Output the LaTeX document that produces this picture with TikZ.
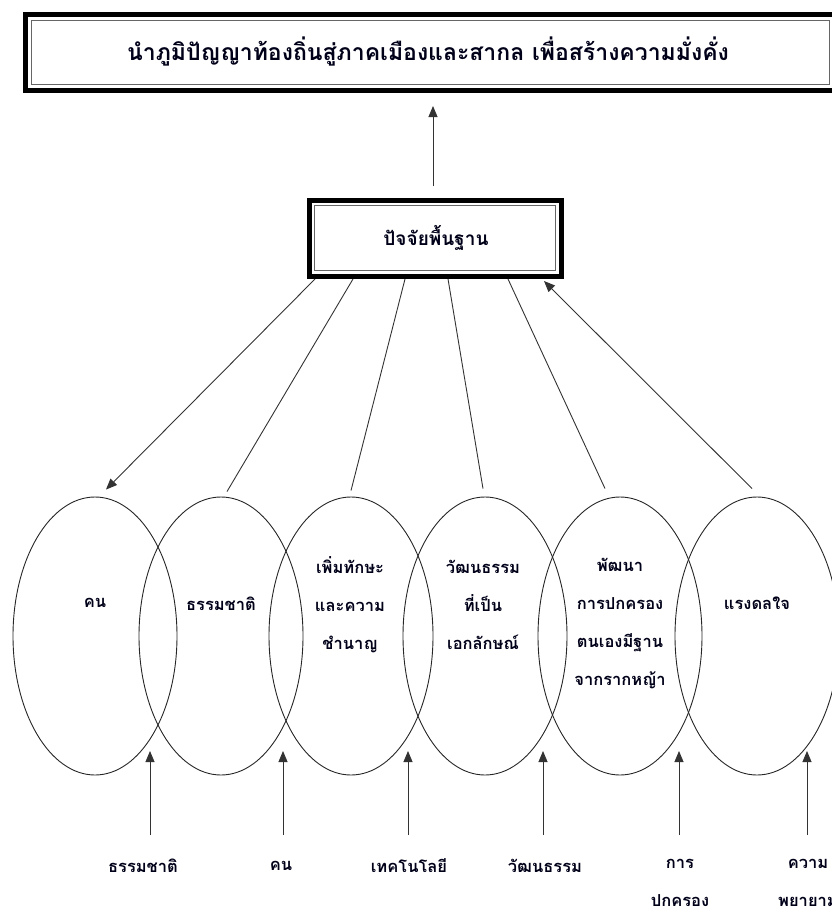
\documentclass[tikz,border=0pt]{standalone}
\usepackage{fontspec}
\newfontfamily\thaifont[Script=Thai]{Loma}
\usetikzlibrary{arrows.meta,shapes.geometric,calc}
\tikzset{
  thai/.style={font=\thaifont\bfseries\fontsize{16.5}{38}\selectfont, text=black!90!blue, align=center, inner sep=0pt},
  thaibig/.style={thai, font=\thaifont\bfseries\fontsize{23}{38}\selectfont},
  thaimid/.style={thai, font=\thaifont\bfseries\fontsize{19}{38}\selectfont},
  oval/.style={draw=black!85, line width=0.9pt, ellipse, minimum width=164pt, minimum height=278pt, inner sep=0pt},
  conn/.style={draw=black!80, line width=0.9pt},
  arr/.style={conn, -{Triangle[length=11pt,width=9pt]}},
  outerbox/.style={draw=black, line width=5pt},
  innerbox/.style={draw=black!60, line width=1pt}
}
\begin{document}
\begin{tikzpicture}[x=1pt,y=-1pt]
\useasboundingbox (0,0) rectangle (831,913);
% top box
\draw[outerbox] (25.5,14.5) rectangle (835,90);
\draw[innerbox] (31,20) rectangle (829,84.5);
\node[thaibig] (goal) at (428,52) {นำภูมิปัญญาท้องถิ่นสู่ภาคเมืองและสากล เพื่อสร้างความมั่งคั่ง};
\coordinate (goalin) at (433,106);
% factor box
\draw[outerbox] (309,200) rectangle (561,276);
\draw[innerbox] (314.5,205.5) rectangle (555.5,270.5);
\node[thaimid] (base) at (436,238) {ปัจจัยพื้นฐาน};
\coordinate (baseout) at (433,186);
\draw[arr] (baseout) -- (goalin);
% ellipses
\node[oval] (e1) at (95,636) {};
\node[oval] (e2) at (221,636) {};
\node[oval] (e3) at (351,636) {};
\node[oval] (e4) at (485,636) {};
\node[oval] (e5) at (620,636) {};
\node[oval] (e6) at (757,636) {};
% ellipse texts
\node[thai] (t1) at (95,603) {คน};
\node[thai] (t2) at (221,604) {ธรรมชาติ};
\node[thai] (t3) at (350,605) {เพิ่มทักษะ\\และความ\\ชำนาญ};
\node[thai] (t4) at (483,605) {วัฒนธรรม\\ที่เป็น\\เอกลักษณ์};
\node[thai] (t5) at (620,624) {พัฒนา\\การปกครอง\\ตนเองมีฐาน\\จากรากหญ้า};
\node[thai] (t6) at (757,603) {แรงดลใจ};
% connectors from factor box
\coordinate (b1) at (315,279);
\coordinate (b2) at (353,279);
\coordinate (b3) at (405,279);
\coordinate (b4) at (448,279);
\coordinate (b5) at (508,279);
\coordinate (b6) at (544,281);
\draw[arr] (b1) -- ($(e1.north)+(11,-7)$);
\draw[conn] (b2) -- ($(e2.north)+(6,-5)$);
\draw[conn] (b3) -- ($(e3.north)+(0,-6)$);
\draw[conn] (b4) -- ($(e4.north)+(-2,-8)$);
\draw[conn] (b5) -- ($(e5.north)+(-15,-8)$);
\draw[arr] ($(e6.north)+(-5,-8)$) -- (b6);
% bottom labels
\node[thai] (l1) at (143,866) {ธรรมชาติ};
\node[thai] (l2) at (281,866) {คน};
\node[thai] (l3) at (409,866) {เทคโนโลยี};
\node[thai] (l4) at (545,866) {วัฒนธรรม};
\node[thai] (l5) at (680,883) {การ\\ปกครอง};
\node[thai] (l6) at (808,883) {ความ\\พยายาม};
% bottom arrows
\foreach \i/\x in {1/150,2/283,3/408,4/543,5/679,6/807}{
  \coordinate (p\i) at (\x,835);
  \coordinate (q\i) at (\x,751);
  \draw[arr] (p\i) -- (q\i);
}
\end{tikzpicture}
\end{document}
